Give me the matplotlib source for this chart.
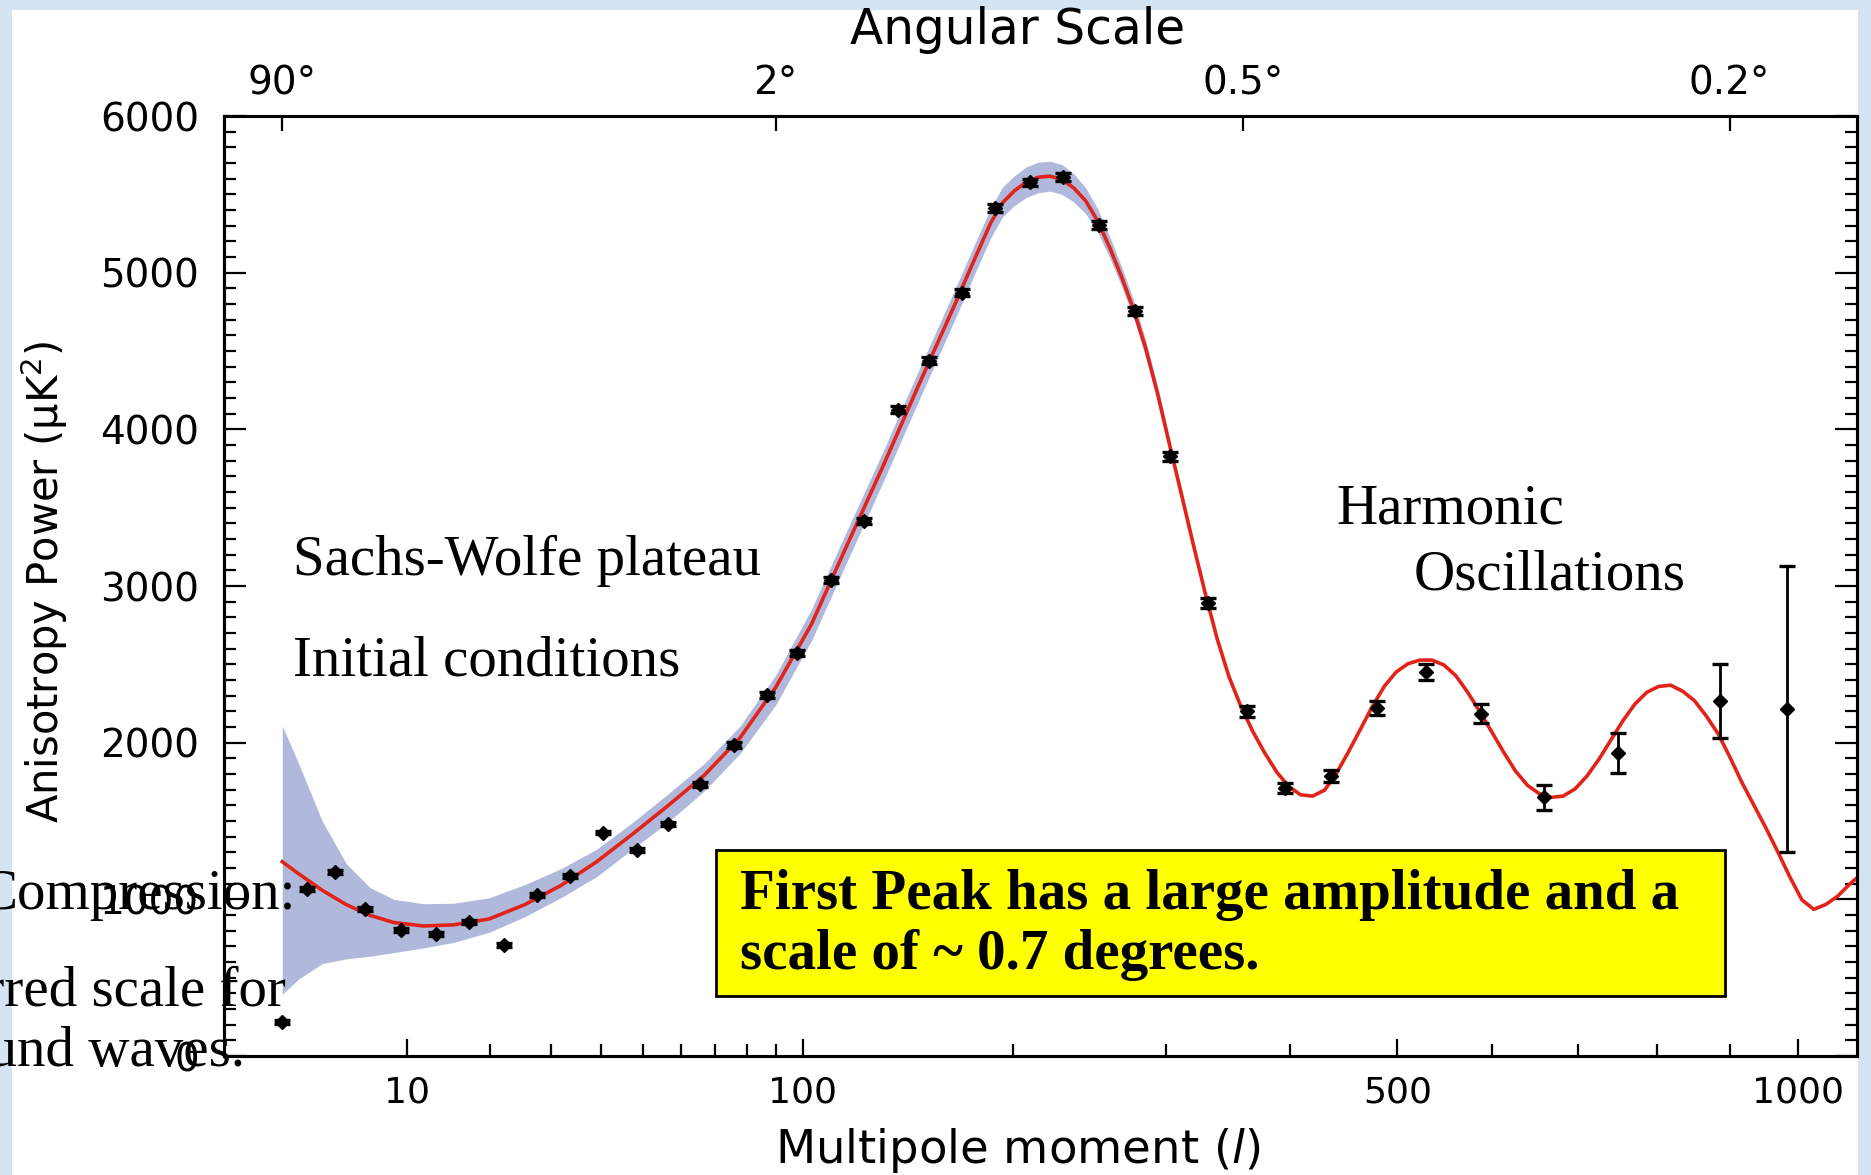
import numpy as np
import matplotlib
matplotlib.use('Agg')
import matplotlib.pyplot as plt
from matplotlib.patches import Rectangle
from matplotlib.ticker import NullLocator

# binned measurements (multipole, power, error)
l_data = [2, 3, 4.5, 6.5, 9.5, 13, 17, 22, 27.5, 33.5, 40.5, 48.5, 56.5, 65.5, 76, 87,
          98, 111, 125, 140, 155, 172, 190, 210, 230, 253, 278, 303, 332, 363, 395,
          436, 480, 529, 587, 659, 750, 887, 984]
p_data = [217, 1068, 1174, 936, 804, 781, 855, 709, 1026, 1149, 1426, 1313, 1479, 1734, 1985, 2304,
          2572, 3036, 3417, 4125, 4437, 4871, 5411, 5576, 5609, 5304, 4756, 3828, 2892, 2199, 1712,
          1788, 2222, 2451, 2184, 1651, 1933, 2268, 2215]
p_err = [12, 12, 12, 12, 12, 12, 12, 12, 12, 12, 12, 12, 12, 15, 18, 20,
         20, 20, 20, 22, 22, 22, 25, 25, 25, 25, 28, 30, 30, 32, 32,
         39, 45, 53, 61, 80, 128, 236, 912]

# best fit model curve
l_model = [2.0, 2.64, 3.78, 5.18, 6.86, 8.82, 11.7, 15.09, 19.85, 25.4, 31.8, 39.1, 47.3, 56.5,
           66.6, 77.8, 90, 103.3, 117.8, 133.4, 150.1, 168.1, 177.6, 187.3,
           193.9, 200.7, 207.7, 214.8, 222.0, 229.4, 236.9, 244.6, 252.5, 260.4, 268.6, 276.8,
           285.2, 293.8, 302.6, 311.5, 320.5, 329.7, 339.0, 348.5, 358.2, 368.0, 378.0, 388.2,
           398.5, 408.9, 419.6, 430.4, 441.3, 452.5, 463.8, 475.2, 486.9, 498.7, 510.6, 522.8,
           535.1, 547.6, 560.2, 573.1, 586.1, 599.3, 612.6, 626.2, 639.9, 653.8, 667.9, 682.1,
           696.5, 711.2, 726.0, 740.9, 756.1, 771.4, 787.0, 802.7, 818.6, 834.7, 851.0, 867.5,
           884.1, 901.0, 918.0, 935.3, 952.7, 970.3, 988.2, 1006.2, 1024.4, 1042.8, 1061.4,
           1080.2, 1095.4]
p_model = [1240, 1164, 1058, 967, 898, 852, 830, 837, 875, 967, 1088, 1240, 1416, 1600,
           1790, 2030, 2352, 2755, 3265, 3767, 4285, 4795, 5060, 5315,
           5445, 5522, 5578, 5609, 5616, 5594, 5540, 5457, 5327, 5160, 4970, 4764,
           4521, 4231, 3904, 3585, 3265, 2953, 2664, 2420, 2230, 2070, 1933, 1811,
           1720, 1667, 1659, 1697, 1804, 1941, 2085, 2230, 2359, 2451, 2504, 2527,
           2527, 2496, 2428, 2321, 2199, 2070, 1941, 1819, 1728, 1674, 1651, 1659,
           1705, 1788, 1895, 2017, 2139, 2245, 2321, 2359, 2367, 2329, 2268, 2169,
           2055, 1903, 1743, 1598, 1454, 1301, 1142, 997, 936, 967, 1020,
           1096, 1149]

# cosmic variance band around the model
l_band = [2.0, 2.64, 3.78, 5.18, 6.86, 8.82, 11.7, 15.09, 19.85, 25.4, 31.8, 39.1, 47.3, 56.5,
          66.6, 77.8, 90, 103.3, 117.8, 133.4, 150.1, 168.1, 177.6, 187.3,
          193.9, 200.7, 207.7, 214.8, 222.0, 229.4, 236.9, 244.6, 252.5, 260.4, 268.6, 276.8,
          285.2, 293.8, 302.6, 311.5, 320.5, 329.7, 339.0, 348.5, 358.2, 368.0]
band_hi = [2106, 1870, 1500, 1230, 1075, 1000, 972, 975, 1010, 1095, 1195, 1320, 1490, 1675,
           1865, 2105, 2430, 2850, 3360, 3860, 4380, 4890, 5155, 5410,
           5545, 5618, 5675, 5705, 5712, 5690, 5630, 5540, 5405, 5230, 5035, 4825,
           4575, 4280, 3945, 3620, 3295, 2978, 2684, 2435, 2240, 2076]
band_lo = [394, 490, 590, 620, 637, 660, 690, 725, 790, 890, 1010, 1145, 1320, 1495,
           1690, 1930, 2240, 2650, 3160, 3665, 4185, 4700, 4965, 5220,
           5355, 5428, 5480, 5510, 5520, 5500, 5450, 5375, 5255, 5095, 4910, 4710,
           4470, 4185, 3865, 3552, 3237, 2930, 2645, 2406, 2220, 2064]

x_major = [10, 100, 500, 1000]
x_minor = [20, 30, 40, 50, 60, 70, 80, 90, 200, 300, 400, 600, 700, 800, 900]
ang_l = [2, 90, 360, 900]
ang_lab = ['90°', '2°', '0.5°', '0.2°']


def fwd(x):
    x = np.asarray(x, dtype=float)
    return np.sign(x) * np.abs(x) ** 0.4


def inv(y):
    y = np.asarray(y, dtype=float)
    return np.sign(y) * np.abs(y) ** 2.5


W, H = 1871, 1175
fig = plt.figure(figsize=(W / 100, H / 100), dpi=100)
fig.patch.set_facecolor('#d5e4f3')
bg = Rectangle((12 / W, 0), (1858 - 12) / W, (H - 10) / H, transform=fig.transFigure,
               facecolor='white', edgecolor='none', zorder=-5)
fig.add_artist(bg)

ax = fig.add_axes([224 / W, (H - 1056) / H, (1857 - 224) / W, (1056 - 116) / H])
ax.set_xscale('function', functions=(fwd, inv))
ax.fill_between(l_band, band_lo, band_hi, color='#b0b9dc', lw=0, zorder=1)
ax.plot(l_model, p_model, color='#e2231a', lw=2.6, zorder=2, solid_joinstyle='round')
ax.errorbar(l_data, p_data, yerr=p_err, fmt='D', ms=7, color='k', ecolor='k',
            elinewidth=2, capsize=5.5, capthick=2.4, zorder=3)
ax.set_xlim(0.505, 1092)
ax.set_ylim(0, 6000)

ax.set_xticks(x_major)
ax.set_xticklabels([str(v) for v in x_major])
ax.set_xticks(x_minor, minor=True)
ax.set_yticks(range(0, 6001, 1000))
ax.set_yticks(range(0, 6001, 100), minor=True)
ax.tick_params(axis='both', which='both', direction='in', width=1.6, right=True, top=False)
ax.tick_params(axis='x', which='major', length=12, pad=14, labelsize=26)
ax.tick_params(axis='x', which='minor', length=9)
ax.tick_params(axis='y', which='major', length=16, pad=18, labelsize=28)
ax.tick_params(axis='y', which='minor', length=8.5)
for s in ax.spines.values():
    s.set_linewidth(2.2)

ax2 = ax.twiny()
ax2.set_xscale('function', functions=(fwd, inv))
ax2.set_xlim(ax.get_xlim())
ax2.set_xticks(ang_l)
ax2.set_xticklabels(ang_lab)
ax2.xaxis.set_minor_locator(NullLocator())
ax2.tick_params(axis='x', direction='in', length=11, width=1.6, pad=10, labelsize=28)
for s in ax2.spines.values():
    s.set_linewidth(2.2)

fig.text(1018 / W, 1 - 44 / H, 'Angular Scale', ha='center', va='baseline', fontsize=35)
fig.text(1018 / W, 1 - 1163 / H, r'Multipole moment ($\mathit{l}$)', ha='center',
         va='baseline', fontsize=33.5)
fig.text(44 / W, 1 - 582 / H, r'Anisotropy Power (μK$^2$)', ha='center', va='center',
         rotation=90, fontsize=30)

serif = 'Liberation Serif'
fig.text(293 / W, 1 - 575 / H, 'Sachs-Wolfe plateau', family=serif, fontsize=41, va='baseline')
fig.text(293 / W, 1 - 675 / H, 'Initial conditions', family=serif, fontsize=41, va='baseline')
fig.text(1336 / W, 1 - 523 / H, 'Harmonic', family=serif, fontsize=41, va='baseline')
fig.text(1414 / W, 1 - 589 / H, 'Oscillations', family=serif, fontsize=41, va='baseline')
fig.text(296 / W, 1 - 909 / H, 'Compression:', family=serif, fontsize=41, va='baseline', ha='right')
fig.text(286 / W, 1 - 1005 / H, 'Preferred scale for', family=serif, fontsize=41, va='baseline', ha='right')
fig.text(245 / W, 1 - 1066 / H, 'sound waves.', family=serif, fontsize=41, va='baseline', ha='right')

box = Rectangle((716 / W, (H - 996) / H), 1009 / W, 146 / H, transform=fig.transFigure,
                facecolor='#ffff00', edgecolor='black', lw=2, zorder=5)
fig.add_artist(box)
fig.text(740 / W, 1 - 909 / H, 'First Peak has a large amplitude and a', family=serif,
         fontsize=41, weight='bold', va='baseline', zorder=6)
fig.text(740 / W, 1 - 969 / H, 'scale of ~ 0.7 degrees.', family=serif,
         fontsize=41, weight='bold', va='baseline', zorder=6)

fig.savefig('out.png', dpi=100, facecolor=fig.get_facecolor())
